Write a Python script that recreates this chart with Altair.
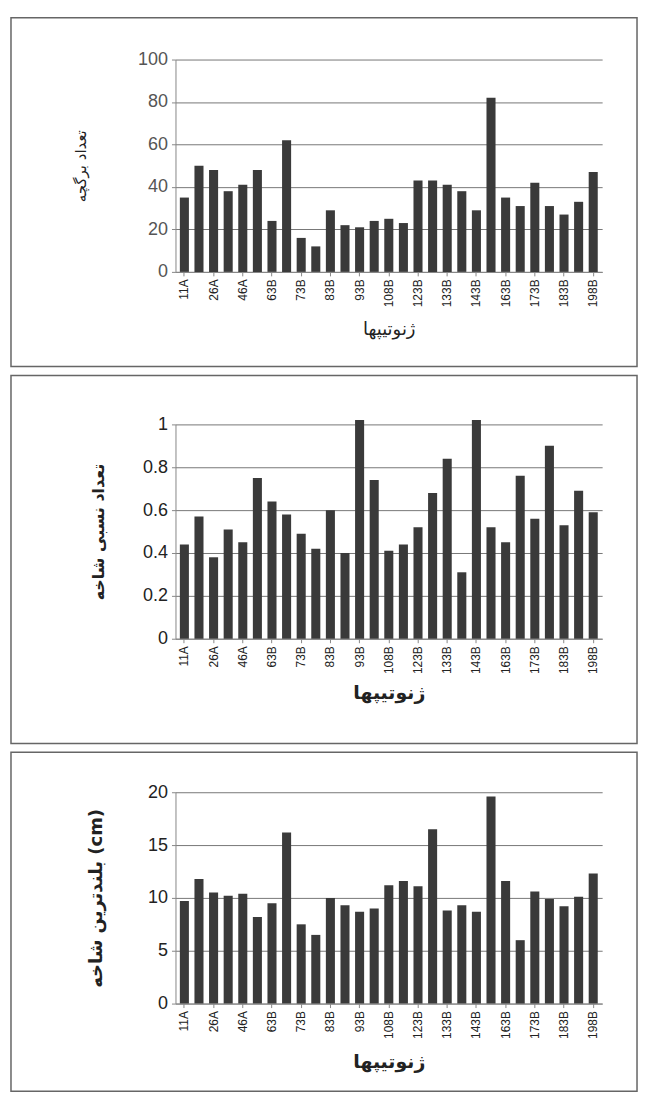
import altair as alt
import pandas as pd

genotypes = ["11A", "16A", "26A", "36A", "46A", "56A", "63B", "68B", "73B", "78B",
             "83B", "88B", "93B", "98B", "108B", "113B", "123B", "128B", "133B", "138B",
             "143B", "153B", "163B", "168B", "173B", "178B", "183B", "193B", "198B"]
shown_labels = genotypes[::2]

leaflets = [35, 50, 48, 38, 41, 48, 24, 62, 16, 12, 29, 22, 21, 24, 25, 23,
            43, 43, 41, 38, 29, 82, 35, 31, 42, 31, 27, 33, 47]
rel_branches = [0.44, 0.57, 0.38, 0.51, 0.45, 0.75, 0.64, 0.58, 0.49, 0.42,
                0.60, 0.40, 1.02, 0.74, 0.41, 0.44, 0.52, 0.68, 0.84, 0.31,
                1.02, 0.52, 0.45, 0.76, 0.56, 0.90, 0.53, 0.69, 0.59]
tallest = [9.7, 11.8, 10.5, 10.2, 10.4, 8.2, 9.5, 16.2, 7.5, 6.5, 10.0, 9.3,
           8.7, 9.0, 11.2, 11.6, 11.1, 16.5, 8.8, 9.3, 8.7, 19.6, 11.6, 6.0,
           10.6, 9.9, 9.2, 10.1, 12.3]

x_title = "ژنوتیپها"
y_titles = ["تعداد برگچه", "تعداد نسبی شاخه", "بلندترین شاخه (cm)"]

PLOT_W = 428
BAR_COLOR = "#3a3a3a"


def panel(values, y_title, domain, ticks, fmt, plot_h, box_top, box_bottom,
          ytitle_x, bold, label_color, title_size, xtitle_y, xtitle_size):
    df = pd.DataFrame({"g": genotypes, "v": values})
    weight = "bold" if bold else "normal"
    bars = alt.Chart(df).mark_bar(color=BAR_COLOR).encode(
        x=alt.X("g:N", sort=genotypes,
                scale=alt.Scale(paddingInner=0.38, paddingOuter=0.3),
                axis=alt.Axis(values=shown_labels, labelAngle=-90, labelFontSize=12,
                              labelFont="Liberation Sans", labelColor="#222",
                              labelPadding=3, tickSize=4, tickColor="#888",
                              domainColor="#888", title=x_title,
                              titleFont="DejaVu Sans", titleFontSize=xtitle_size,
                              titleFontWeight=weight, titleColor="#222",
                              titleY=xtitle_y, titleBaseline="middle")),
        y=alt.Y("v:Q", scale=alt.Scale(domain=domain, nice=False, zero=True),
                axis=alt.Axis(values=ticks, format=fmt, grid=True, gridColor="#777",
                              gridWidth=1, domainColor="#888", tickColor="#888",
                              tickSize=4, labelFontSize=18, labelFont="Liberation Sans",
                              labelColor=label_color, labelPadding=4,
                              title=y_title, titleFont="DejaVu Sans",
                              titleFontSize=title_size, titleFontWeight=weight,
                              titleColor="#222", titleX=ytitle_x, titleY=plot_h / 2,
                              titleBaseline="middle", titleAngle=270)),
    )
    box = alt.Chart(pd.DataFrame({"b": [0]})).mark_rect(
        fillOpacity=0, stroke="#666", strokeWidth=1.5
    ).encode(
        x=alt.value(-165), x2=alt.value(463),
        y=alt.value(box_top), y2=alt.value(box_bottom),
    )
    return alt.layer(bars, box).properties(width=PLOT_W, height=plot_h)


p1 = panel(leaflets, y_titles[0], [0, 100], [0, 20, 40, 60, 80, 100], "d", 213, -42, 308,
           -95, False, "#555", 15, 58, 18)
p2 = panel(rel_branches, y_titles[1], [0, 1], [0, 0.2, 0.4, 0.6, 0.8, 1], "~g", 215, -49, 320,
           -77, True, "#222", 16, 54, 19)
p3 = panel(tallest, y_titles[2], [0, 20], [0, 5, 10, 15, 20], "d", 212, -40, 300,
           -79, True, "#222", 18, 58, 19)

chart = alt.vconcat(p1, p2, p3, spacing=7).resolve_scale(y="independent").properties(
    padding={"left": 2, "top": 7, "right": 5, "bottom": 0}
).configure_view(stroke=None)

chart.save("out.html", embed_options={"renderer": "svg", "actions": False})
